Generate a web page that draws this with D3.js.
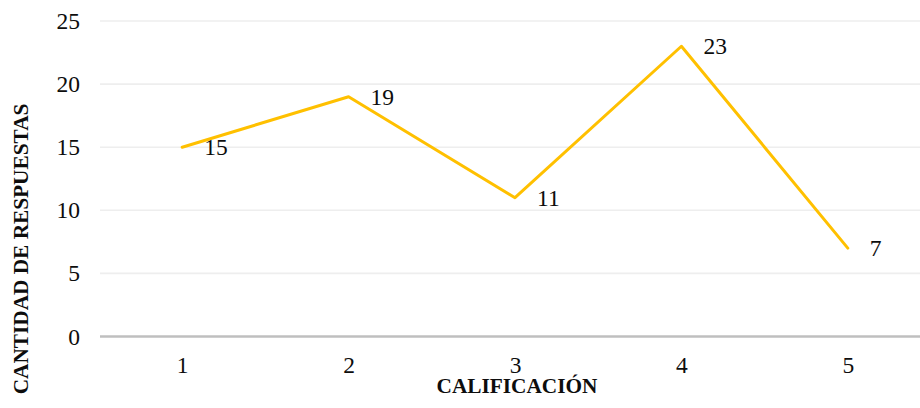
<!DOCTYPE html>
<html>
<head>
<meta charset="utf-8">
<script src="https://cdn.jsdelivr.net/npm/d3@7"></script>
<style>
  html, body { margin: 0; padding: 0; background: #fff; }
  svg text { font-family: "Liberation Serif", "Times New Roman", serif; }
</style>
</head>
<body>
<svg id="chart" width="920" height="408"></svg>
<script>
// Calificación (1–5) y número de respuestas recibidas
const categories = ["1", "2", "3", "4", "5"];
const respuestas = [15, 19, 11, 23, 7];
const yTicks = [0, 5, 10, 15, 20, 25];
const xTitle = "CALIFICACIÓN";
const yTitle = "CANTIDAD DE RESPUESTAS";

const svg = d3.select("#chart");
const plotLeft = 100, plotRight = 920;
const numSize = 23.5;   // tick and value labels
const titleSize = 21.3; // axis titles
const ink = "#0d0d0d";

const x = d3.scalePoint().domain(categories).range([99, 931]).padding(0.5);
const y = d3.scaleLinear().domain([0, 25]).range([336.5, 21]);

// horizontal gridlines
svg.append("g")
  .selectAll("line")
  .data(yTicks.filter(t => t !== 0))
  .join("line")
  .attr("x1", plotLeft).attr("x2", plotRight)
  .attr("y1", d => y(d)).attr("y2", d => y(d))
  .attr("stroke", "#eeeeee")
  .attr("stroke-width", 1.6);

// y tick labels
const yAxis = d3.axisLeft(y).tickValues(yTicks).tickSize(0).tickPadding(0);
const gy = svg.append("g").attr("transform", "translate(80,0)").call(yAxis);
gy.attr("font-family", null).attr("font-size", null);
gy.select(".domain").remove();
gy.selectAll("text")
  .attr("font-size", numSize)
  .attr("fill", ink);

// baseline at zero
svg.append("line")
  .attr("x1", plotLeft).attr("x2", plotRight)
  .attr("y1", y(0)).attr("y2", y(0))
  .attr("stroke", "#bfbfbf")
  .attr("stroke-width", 2.6);

// x tick labels
const xAxis = d3.axisBottom(x).tickSize(0).tickPadding(0);
const gx = svg.append("g").attr("transform", `translate(0,${y(0) + 19.5})`).call(xAxis);
gx.attr("font-family", null).attr("font-size", null);
gx.select(".domain").remove();
gx.selectAll("text")
  .attr("font-size", numSize)
  .attr("fill", ink);

// series line
const line = d3.line()
  .x((d, i) => x(categories[i]))
  .y(d => y(d));

svg.append("path")
  .datum(respuestas)
  .attr("d", line)
  .attr("fill", "none")
  .attr("stroke", "#ffc000")
  .attr("stroke-width", 3)
  .attr("stroke-linejoin", "round")
  .attr("stroke-linecap", "round");

// value labels to the right of each point
svg.append("g")
  .selectAll("text")
  .data(respuestas)
  .join("text")
  .attr("x", (d, i) => x(categories[i]) + 22)
  .attr("y", d => y(d))
  .attr("dy", "0.35em")
  .attr("font-size", numSize)
  .attr("fill", ink)
  .text(d => d);

// axis titles
svg.append("text")
  .attr("x", 517).attr("y", 393)
  .attr("text-anchor", "middle")
  .attr("font-weight", "bold")
  .attr("font-size", titleSize)
  .attr("fill", ink)
  .text(xTitle);

svg.append("text")
  .attr("transform", "translate(28,249) rotate(-90)")
  .attr("text-anchor", "middle")
  .attr("font-weight", "bold")
  .attr("font-size", titleSize)
  .attr("fill", ink)
  .text(yTitle);
</script>
</body>
</html>
